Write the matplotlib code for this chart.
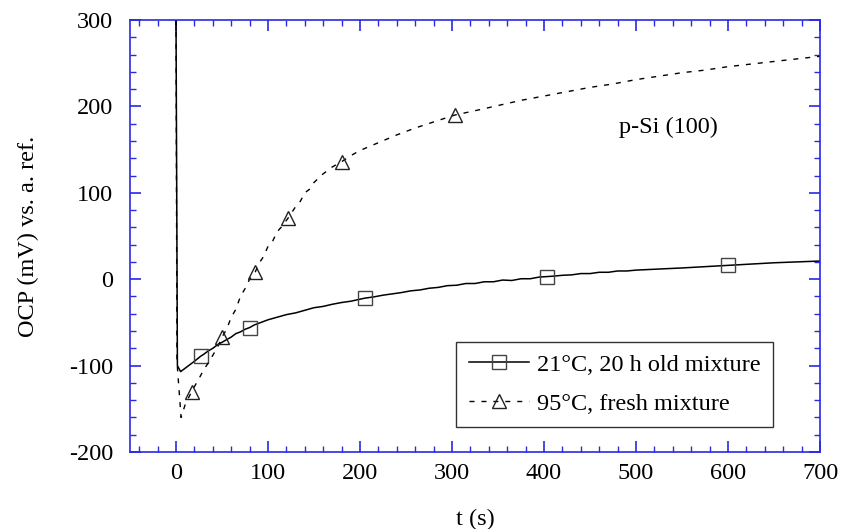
import numpy as np
import matplotlib.pyplot as plt
from matplotlib.ticker import MultipleLocator

plt.rcParams['font.family'] = ['Liberation Serif', 'DejaVu Serif']
plt.rcParams['axes.unicode_minus'] = False

# OCP transient, 21 C, 20 h old mixture (mV vs. t in s)
t_cold = [0, 1.5, 5, 10, 15, 20, 27, 30, 35, 40, 45, 50, 55, 60, 65, 70, 75, 80, 85, 90, 95,
          100, 110, 120, 130, 140, 150, 160, 170, 180, 190, 205, 215, 225, 235, 245, 255,
          265, 275, 285, 295, 305, 315, 325, 335, 345, 355, 365, 375, 385, 395, 403, 410,
          420, 430, 440, 450, 460, 470, 480, 490, 500, 520, 550, 575, 600, 625, 650, 675, 700]
ocp_cold = [300, -100, -107, -103, -99, -95, -89, -87, -83, -80, -76, -73, -70, -67, -63, -61, -58, -56, -53, -51, -49,
            -47, -44, -41, -39, -36, -33, -31.5, -29, -27, -25.5, -22, -20.5, -18.5, -17, -15.5, -13.5,
            -12.5, -10.5, -9.5, -7.5, -7, -5, -5, -3, -3, -1, -1.5, 0.5, 0.5, 2.5, 3, 3.5,
            4.5, 5, 6.5, 6.5, 8, 8, 9.5, 9.5, 10.5, 11.5, 13, 14.5, 16, 17.5, 19, 20, 21]

# OCP transient, 95 C, fresh mixture
t_hot = [0, 1, 5.5, 10, 17, 25, 30, 35, 40, 45, 50, 55, 60, 65, 70, 75, 80, 86, 90, 95,
         100, 105, 110, 115, 122, 130, 135, 140, 145, 150, 160, 170, 180, 190, 200, 220,
         240, 260, 280, 303, 325, 350, 375, 400, 425, 450, 475, 500, 525, 550, 575, 600,
         625, 650, 675, 700]
ocp_hot = [300, -95, -160, -145, -130, -115, -105, -97, -88, -79, -67, -58, -44, -35, -20, -11, 0, 8, 18, 26,
           38, 44, 55, 61, 71, 84, 90, 100, 104, 112, 122, 130, 136, 143, 149, 158,
           167, 175, 182, 190, 195, 201, 207, 212, 217, 222, 226, 231, 235, 239, 242, 246,
           249, 252, 255, 258]

sq_t = [27, 80, 205, 403, 600]
tri_t = [17, 50, 86, 122, 180, 303]

blue = '#2a2ae0'
fs = 17.5

fig = plt.figure(figsize=(8.41, 5.29), dpi=100)
ax = fig.add_axes([0.1546, 0.1456, 0.8205, 0.8166])

ax.plot(t_cold, ocp_cold, color='black', lw=1.1,
        marker='s', markersize=9.5, markerfacecolor='none', markeredgecolor='#444444', markeredgewidth=1.0,
        markevery=[t_cold.index(v) for v in sq_t], label='21°C, 20 h old mixture')
ax.plot(t_hot, ocp_hot, color='black', lw=1.0, dashes=(3.6, 5.0),
        marker='^', markersize=10, markerfacecolor='none', markeredgecolor='#222222', markeredgewidth=1.0,
        markevery=[t_hot.index(v) for v in tri_t], label='95°C, fresh mixture')

ax.set_xlim(-50, 700)
ax.set_ylim(-200, 300)
ax.xaxis.set_major_locator(MultipleLocator(100))
ax.xaxis.set_minor_locator(MultipleLocator(20))
ax.yaxis.set_major_locator(MultipleLocator(100))
ax.yaxis.set_minor_locator(MultipleLocator(20))

for s in ax.spines.values():
    s.set_color(blue)
    s.set_linewidth(1.2)
ax.tick_params(which='both', direction='in', top=True, right=True, color=blue, labelsize=fs)
ax.tick_params(which='major', length=8, width=1.2)
ax.tick_params(which='minor', length=4, width=1.0)
ax.tick_params(axis='x', which='major', pad=8)
ax.tick_params(axis='y', which='major', pad=12)

ax.set_xlabel('t (s)', fontsize=fs, labelpad=18)
ax.set_ylabel('OCP (mV) vs. a. ref.', fontsize=fs, labelpad=22)

ax.text(535, 176, 'p-Si (100)', fontsize=fs, ha='center', va='center')

leg = ax.legend(loc='lower right', bbox_to_anchor=(0.932, 0.058), fontsize=fs, frameon=True,
                fancybox=False, edgecolor='black', handlelength=2.5, borderpad=0.5,
                labelspacing=0.7, handletextpad=0.33, borderaxespad=0)
leg.get_frame().set_linewidth(1.0)

fig.savefig('out.png', dpi=100)
